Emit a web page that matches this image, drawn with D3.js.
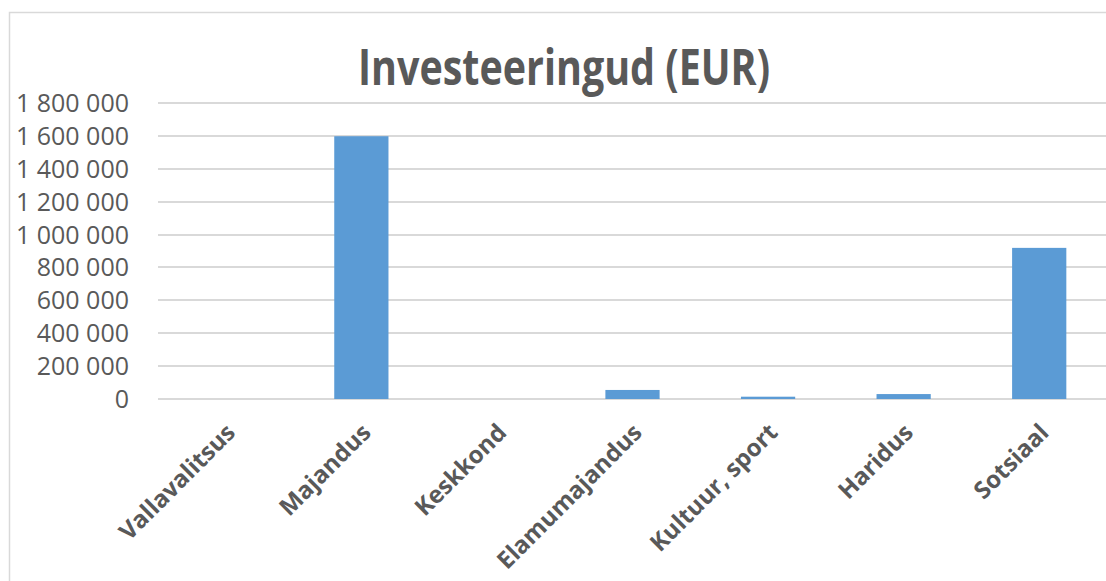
<!DOCTYPE html>
<html lang="et">
<head>
<meta charset="utf-8" />
<title>Investeeringud (EUR)</title>
<style>
  html, body { margin: 0; padding: 0; background: #fff; }
  svg { display: block; }
  .title { font-family: "Open Sans", sans-serif; font-weight: 700; fill: #595959; }
  .ytick text { font-family: "Open Sans", sans-serif; font-size: 25px; fill: #595959; }
  .xlab { font-family: "Open Sans", sans-serif; font-weight: 700; font-size: 24px; fill: #595959; }
</style>
</head>
<body>
<svg id="chart"></svg>
<script src="https://d3js.org/d3.v7.min.js"></script>
<script>
  // andmed
  const categories = ["Vallavalitsus", "Majandus", "Keskkond", "Elamumajandus", "Kultuur, sport", "Haridus", "Sotsiaal"];
  const values = [0, 1598000, 0, 55000, 14000, 30000, 919000];
  const yTicks = [0, 200000, 400000, 600000, 800000, 1000000, 1200000, 1400000, 1600000, 1800000];

  const W = 1106, H = 581;
  const margin = { left: 158, right: -1, top: 103, bottom: 182 };
  const svg = d3.select("#chart").attr("width", W).attr("height", H);

  // raam
  svg.append("path")
    .attr("d", `M9.5,${H} V12.5 H${W}`)
    .attr("fill", "none").attr("stroke", "#d9d9d9").attr("stroke-width", 1.5);

  const x = d3.scaleBand()
    .domain(categories)
    .range([margin.left, W - margin.right])
    .paddingInner(0.6).paddingOuter(0.3);

  const y = d3.scaleLinear()
    .domain([0, 1800000])
    .range([H - margin.bottom, margin.top]);

  // tuhandete eraldaja tühikuga
  const fmt = d => d3.format(",")(d).replace(/,/g, " ");

  // ruudustik
  svg.append("g").selectAll("line").data(yTicks).join("line")
    .attr("x1", margin.left).attr("x2", W)
    .attr("y1", d => Math.round(y(d))).attr("y2", d => Math.round(y(d)))
    .attr("stroke", "#d9d9d9").attr("stroke-width", 2);

  // y-telje sildid
  svg.append("g").attr("class", "ytick").selectAll("text").data(yTicks).join("text")
    .attr("x", 129).attr("y", d => y(d))
    .attr("dy", "0.36em")
    .attr("text-anchor", "end")
    .text(fmt);

  // tulbad
  svg.append("g").selectAll("rect").data(values).join("rect")
    .attr("x", (d, i) => x(categories[i]))
    .attr("width", x.bandwidth())
    .attr("y", d => y(d))
    .attr("height", d => y(0) - y(d))
    .attr("fill", "#5b9bd5");

  // x-telje sildid
  svg.append("g").selectAll("text").data(categories).join("text")
    .attr("class", "xlab")
    .attr("text-anchor", "end")
    .attr("transform", d => {
      const cx = x(d) + x.bandwidth() / 2 + 11;
      const cy = y(0) + 35;
      return `translate(${cx},${cy}) rotate(-45)`;
    })
    .text(d => d);

  // pealkiri
  svg.append("text")
    .attr("class", "title")
    .attr("x", 564).attr("y", 85)
    .attr("text-anchor", "middle")
    .attr("font-size", 50)
    .attr("textLength", 412)
    .attr("lengthAdjust", "spacingAndGlyphs")
    .text("Investeeringud (EUR)");
</script>
</body>
</html>
